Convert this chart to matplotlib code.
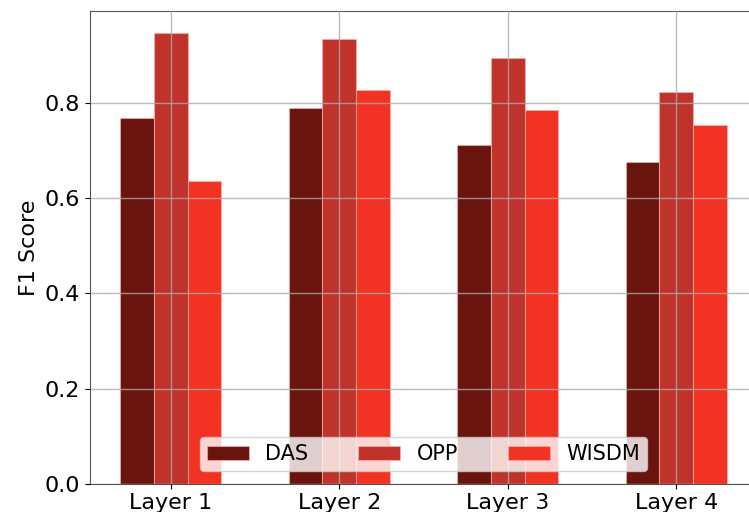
import matplotlib
matplotlib.use("Agg")
import matplotlib.pyplot as plt
import numpy as np

# ── Data ─────────────────────────────────────────────────────────────────────
layers = ["Layer 1", "Layer 2", "Layer 3", "Layer 4"]
das   = [0.768, 0.789, 0.710, 0.675]
opp   = [0.945, 0.934, 0.894, 0.822]
wisdm = [0.635, 0.827, 0.785, 0.753]

series = [("DAS", das, "#6a140e"), ("OPP", opp, "#c0332a"), ("WISDM", wisdm, "#f23222")]

# ── Plot ─────────────────────────────────────────────────────────────────────
fig = plt.figure(figsize=(7.49, 5.12), dpi=100)
ax = fig.add_axes([0.1202, 0.0547, 0.8905, 0.924])

x = np.arange(len(layers))
width = 0.2
for i, (name, vals, color) in enumerate(series):
    ax.bar(x + (i - 1) * width, vals, width, label=name, color=color,
           edgecolor=(1, 0.7, 0.7, 0.6), linewidth=0.8)

ax.set_xticks(x)
ax.set_xticklabels(layers, fontsize=16)
ax.tick_params(axis="x", pad=3)
ax.tick_params(axis="y", labelsize=16)
ax.set_yticks([0.0, 0.2, 0.4, 0.6, 0.8])
ax.set_ylabel("F1 Score", fontsize=16)
ax.set_axisbelow(False)
ax.grid(True, color="#aaaaaa", linewidth=1.0, alpha=0.8)
for spine in ax.spines.values():
    spine.set_color("#555555")

ax.legend(loc="lower center", ncol=3, fontsize=15, handlelength=2.0,
          columnspacing=2.4, borderpad=0.35, borderaxespad=0.6)

fig.savefig("out.png", dpi=100, facecolor="white")
